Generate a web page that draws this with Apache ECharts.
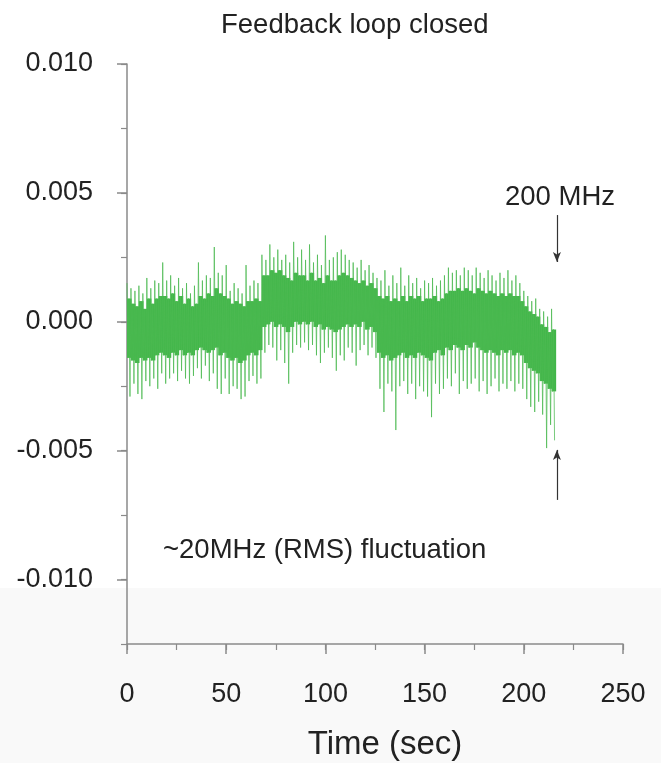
<!DOCTYPE html>
<html>
<head>
    <meta charset="utf-8">
    <script src="https://cdn.jsdelivr.net/npm/echarts@6/dist/echarts.min.js"></script>
</head>
<body style="margin:0;background:#fff">
    <div id="main" style="width:661px;height:763px;"></div>
    <script type="text/javascript">
        // 数据 (单位 0.001)
        var SCALE = 0.001;
        var STEP = 2;
        var times = [0,2,4,6,8,10,12,14,16,18,20,22,24,26,28,30,32,34,36,38,40,42,44,46,48,50,52,54,56,58,60,62,64,66,
            68,70,72,74,76,78,80,82,84,86,88,90,92,94,96,98,100,102,104,106,108,110,112,114,116,118,120,122,124,
            126,128,130,132,134,136,138,140,142,144,146,148,150,152,154,156,158,160,162,164,166,168,170,172,174,176,178,
            180,182,184,186,188,190,192,194,196,198,200,202,204,206,208,210,212,214];
        var peakHi = [1.5,1.3,1.2,1.4,1.1,1.7,1.3,1.6,1.5,2.3,1.6,1.8,1.4,1.7,1.3,1.5,1.1,1.4,2.3,1.6,1.8,1.7,2.9,1.9,1.8,2.2,1.2,1.5,1.3,1.1,2.2,1.4,1.6,1.5,
            2.6,2.4,3.0,2.5,2.8,2.4,2.6,2.3,3.1,2.5,2.8,2.4,3.0,2.3,2.6,2.2,3.35,2.4,2.5,2.7,2.8,2.6,2.4,2.3,2.1,2.4,2.0,2.2,1.9,
            1.7,1.6,2.0,1.4,1.8,1.5,2.1,1.4,1.8,1.5,1.7,1.3,1.6,1.5,1.7,1.4,1.6,1.8,2.1,1.9,2.0,1.8,2.1,2.0,1.8,2.1,1.9,
            1.7,2.0,1.8,1.6,1.9,1.7,2.0,1.6,1.8,1.5,1.2,1.0,0.8,0.9,0.5,0.4,0.2,0.5];
        var coreHi = [0.9,0.7,0.6,0.8,0.5,0.9,0.7,0.9,1.0,1.0,0.9,1.1,0.8,1.0,0.7,0.9,0.6,0.7,1.0,0.9,1.1,1.0,1.3,1.1,1.0,0.9,0.7,0.8,0.7,0.6,0.8,0.8,0.9,0.8,
            1.8,1.8,2.0,1.9,2.0,1.8,1.7,1.6,1.9,1.8,1.8,1.6,1.9,1.6,1.7,1.5,1.8,1.6,1.6,1.8,1.9,1.8,1.7,1.6,1.5,1.6,1.4,1.5,1.3,
            1.0,0.9,1.0,0.8,0.9,0.8,1.0,0.8,1.0,0.9,1.0,0.8,0.9,0.9,1.0,0.8,0.9,1.1,1.2,1.2,1.3,1.2,1.3,1.2,1.1,1.3,1.2,
            1.1,1.2,1.1,1.0,1.1,1.0,1.1,1.0,1.0,0.8,0.6,0.4,0.3,0.2,-0.1,-0.2,-0.4,-0.3];
        var coreLo = [-1.4,-1.5,-1.6,-1.4,-1.5,-1.4,-1.5,-1.3,-1.2,-1.3,-1.4,-1.2,-1.3,-1.1,-1.3,-1.2,-1.3,-1.1,-1.0,-1.1,-1.2,-1.1,-1.0,-1.3,-1.2,-1.4,-1.5,-1.4,-1.6,-1.5,-1.3,-1.2,-1.3,-1.1,
            -0.2,-0.1,0.0,-0.2,-0.1,-0.2,-0.4,-0.2,0.0,-0.1,0.0,-0.1,0.0,-0.2,-0.1,-0.3,-0.2,-0.3,-0.4,-0.3,-0.2,-0.1,-0.2,-0.1,-0.2,0.0,-0.3,-0.2,-0.4,
            -1.2,-1.4,-1.3,-1.5,-1.4,-1.3,-1.2,-1.4,-1.3,-1.4,-1.2,-1.3,-1.4,-1.5,-1.2,-1.1,-1.3,-1.0,-1.1,-0.9,-1.0,-1.1,-0.9,-1.0,-0.8,-1.0,-1.1,
            -1.2,-1.1,-1.2,-1.3,-1.1,-1.2,-1.1,-1.3,-1.2,-1.3,-1.6,-1.8,-1.9,-2.0,-2.3,-2.4,-2.6,-2.7];
        var peakLo = [-2.9,-2.4,-2.8,-3.0,-2.3,-2.5,-2.2,-2.6,-2.0,-2.4,-2.2,-2.0,-2.3,-1.9,-2.2,-2.4,-2.1,-1.8,-2.2,-1.7,-2.3,-2.0,-2.6,-2.8,-2.2,-2.8,-2.5,-2.6,-3.0,-2.9,-2.3,-2.1,-2.4,-2.2,
            -1.2,-0.9,-1.0,-1.5,-1.1,-1.6,-2.4,-1.2,-0.9,-1.0,-0.8,-1.1,-0.9,-1.3,-1.6,-1.2,-1.0,-1.4,-1.9,-1.3,-1.5,-1.0,-1.2,-1.7,-1.1,-0.9,-1.3,-1.0,-1.4,
            -2.6,-3.5,-2.4,-2.7,-4.2,-2.5,-2.3,-2.8,-2.4,-3.0,-2.5,-2.7,-2.9,-3.7,-2.4,-2.8,-2.6,-2.2,-2.5,-2.0,-2.8,-2.3,-2.6,-2.4,-2.2,-2.7,-2.3,
            -2.8,-2.5,-2.2,-2.7,-2.4,-2.6,-2.3,-2.7,-2.4,-2.6,-3.0,-3.3,-3.5,-3.1,-3.6,-4.9,-4.0,-4.6];

        var xTicks = [0, 50, 100, 150, 200, 250];
        var yTicks = [-0.010, -0.005, 0, 0.005, 0.010];

        // 注释箭头 (单位 0.001)
        var arrowTime = 216.7;
        var arrowDown = [4.14, 2.32];
        var arrowUp = [-6.91, -4.97];

        var green = '#41b649';
        var axisColor = '#8a8a8a';
        var textColor = '#222';
        var font = 'Liberation Sans, Arial, sans-serif';

        // 折线: 峰值与核心带交替
        var trace = [];
        var band = [];
        for (var i = 0; i < times.length; i++) {
            var t = times[i];
            trace.push([t, peakHi[i] * SCALE]);
            trace.push([t + 0.5, coreLo[i] * SCALE]);
            trace.push([t + 1, coreHi[i] * SCALE]);
            trace.push([t + 1.5, peakLo[i] * SCALE]);
            band.push([t, coreLo[i] * SCALE, coreHi[i] * SCALE]);
        }

        function renderBand(params, api) {
            var t = api.value(0);
            var p1 = api.coord([t, api.value(2)]);
            var p2 = api.coord([t + STEP, api.value(1)]);
            return {
                type: 'rect',
                shape: {x: p1[0], y: p1[1], width: p2[0] - p1[0] + 0.6, height: p2[1] - p1[1]},
                style: {fill: green}
            };
        }

        var option = {
            animation: false,
            backgroundColor: '#fff',
            title: {
                text: 'Feedback loop closed',
                left: 216,
                top: 6,
                textStyle: {fontFamily: font, fontSize: 27.5, fontWeight: 'normal', color: textColor}
            },
            grid: {left: 127, right: 38, top: 64, bottom: 119, outerBoundsMode: 'none'},
            xAxis: [
                {
                    type: 'value',
                    min: 0,
                    max: 250,
                    interval: 25,
                    name: 'Time (sec)',
                    nameLocation: 'middle',
                    nameGap: 84,
                    nameTextStyle: {fontFamily: font, fontSize: 33, color: textColor, padding: [0, 0, 0, 20]},
                    axisLine: {show: true, onZero: false, lineStyle: {color: axisColor, width: 1.5}},
                    axisTick: {show: true, length: 10, customValues: xTicks, lineStyle: {color: axisColor, width: 1.5}},
                    axisLabel: {customValues: xTicks, margin: 37, fontFamily: font, fontSize: 27, color: textColor},
                    splitLine: {show: false}
                },
                {
                    type: 'value',
                    position: 'bottom',
                    min: 0,
                    max: 250,
                    interval: 25,
                    axisLine: {show: false, onZero: false},
                    axisTick: {show: true, length: 6, lineStyle: {color: axisColor, width: 1.2}},
                    axisLabel: {show: false},
                    splitLine: {show: false}
                }
            ],
            yAxis: [
                {
                    type: 'value',
                    min: -0.0125,
                    max: 0.010,
                    interval: 0.0025,
                    axisLine: {show: true, onZero: false, lineStyle: {color: axisColor, width: 1.5}},
                    axisTick: {show: true, length: 10, customValues: yTicks, lineStyle: {color: axisColor, width: 1.5}},
                    axisLabel: {
                        customValues: yTicks,
                        margin: 34,
                        fontFamily: font,
                        fontSize: 27,
                        color: textColor,
                        formatter: function (v) { return v.toFixed(3); }
                    },
                    splitLine: {show: false}
                },
                {
                    type: 'value',
                    position: 'left',
                    min: -0.0125,
                    max: 0.010,
                    interval: 0.0025,
                    axisLine: {show: false, onZero: false},
                    axisTick: {show: true, length: 6, lineStyle: {color: axisColor, width: 1.2}},
                    axisLabel: {show: false},
                    splitLine: {show: false}
                }
            ],
            graphic: [
                {type: 'rect', left: 0, top: 588, z: -10, silent: true, shape: {width: 661, height: 175}, style: {fill: '#f9f9f9'}},
                {type: 'text', left: 505, top: 183, z: 100, style: {text: '200 MHz', font: '27.5px ' + font, fill: textColor}},
                {type: 'text', left: 163, top: 536, z: 100, style: {text: '~20MHz (RMS) fluctuation', font: '27.5px ' + font, fill: textColor}}
            ],
            series: [
                {
                    name: 'band',
                    type: 'custom',
                    renderItem: renderBand,
                    data: band,
                    silent: true,
                    encode: {x: 0, y: [1, 2]}
                },
                {
                    name: 'signal',
                    type: 'line',
                    data: trace,
                    showSymbol: false,
                    sampling: null,
                    lineStyle: {color: '#4cba52', width: 1, opacity: 0.75},
                    markLine: {
                        silent: true,
                        symbol: ['none', 'arrow'],
                        symbolSize: [6, 10],
                        label: {show: false},
                        lineStyle: {color: '#333', width: 1.2, type: 'solid'},
                        data: [
                            [{coord: [arrowTime, arrowDown[0] * SCALE]}, {coord: [arrowTime, arrowDown[1] * SCALE]}],
                            [{coord: [arrowTime, arrowUp[0] * SCALE]}, {coord: [arrowTime, arrowUp[1] * SCALE]}]
                        ]
                    }
                }
            ]
        };

        var myChart = echarts.init(document.getElementById('main'));
        myChart.setOption(option);
    </script>
</body>
</html>
